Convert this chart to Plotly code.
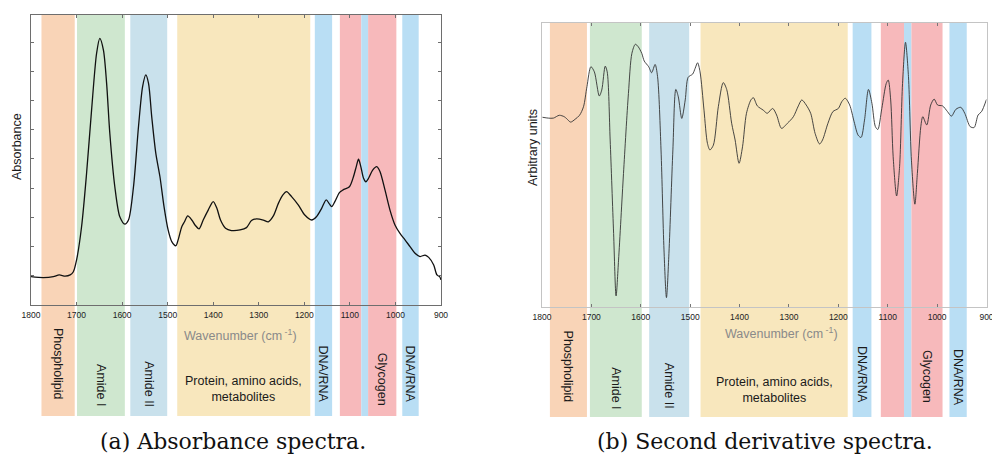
import plotly.graph_objects as go

W, H = 992, 454

# ---------------- data ----------------
# (a) absorbance spectrum
wn_a = [1800, 1773, 1751, 1738, 1725, 1714, 1707, 1700, 1689, 1678, 1667, 1656, 1649, 1641,
        1634, 1627, 1616, 1605, 1594, 1586, 1575, 1564, 1555, 1548, 1542, 1535, 1526, 1517,
        1508, 1499, 1491, 1482, 1477, 1469, 1463, 1456, 1447, 1440, 1431, 1422, 1411, 1400,
        1392, 1384, 1373, 1360, 1341, 1327, 1316, 1305, 1290, 1279, 1268, 1257, 1247, 1239,
        1228, 1213, 1199, 1184, 1173, 1162, 1152, 1145, 1140, 1133, 1123, 1115, 1101, 1092,
        1086, 1081, 1076, 1070, 1065, 1059, 1050, 1041, 1034, 1023, 1012, 1001, 990, 979,
        968, 957, 946, 935, 927, 916, 909, 903, 900]
abs_a = [0.097, 0.094, 0.097, 0.103, 0.099, 0.103, 0.114, 0.154, 0.268, 0.451, 0.668, 0.862,
         0.913, 0.873, 0.759, 0.588, 0.405, 0.302, 0.277, 0.291, 0.405, 0.611, 0.748, 0.788,
         0.759, 0.645, 0.519, 0.440, 0.337, 0.257, 0.217, 0.203, 0.223, 0.268, 0.285, 0.305,
         0.291, 0.274, 0.261, 0.291, 0.325, 0.354, 0.331, 0.291, 0.263, 0.255, 0.257, 0.265,
         0.289, 0.295, 0.291, 0.285, 0.305, 0.348, 0.377, 0.388, 0.371, 0.342, 0.308, 0.291,
         0.303, 0.331, 0.360, 0.346, 0.337, 0.354, 0.385, 0.394, 0.405, 0.440, 0.474, 0.499,
         0.474, 0.434, 0.422, 0.434, 0.462, 0.474, 0.457, 0.394, 0.325, 0.274, 0.245, 0.223,
         0.200, 0.177, 0.166, 0.171, 0.163, 0.137, 0.103, 0.097, 0.086]

# (b) second derivative spectrum
wn_b = [1799, 1787, 1777, 1765, 1755, 1750, 1742, 1733, 1724, 1716, 1709, 1701, 1694, 1684,
        1679, 1672, 1668, 1662, 1655, 1650, 1645, 1635, 1625, 1618, 1611, 1605, 1598, 1593,
        1584, 1578, 1571, 1566, 1559, 1553, 1548, 1543, 1535, 1529, 1524, 1517, 1510, 1504,
        1495, 1490, 1485, 1480, 1472, 1465, 1460, 1453, 1443, 1433, 1426, 1416, 1409, 1401,
        1394, 1386, 1377, 1372, 1364, 1352, 1344, 1333, 1325, 1315, 1303, 1291, 1281, 1274,
        1265, 1256, 1247, 1238, 1232, 1221, 1211, 1200, 1193, 1186, 1177, 1168, 1160, 1154,
        1147, 1139, 1132, 1125, 1120, 1112, 1103, 1099, 1094, 1089, 1082, 1076, 1070, 1064,
        1058, 1052, 1045, 1040, 1033, 1029, 1021, 1013, 1006, 999, 989, 979, 971, 962, 952,
        944, 933, 925, 917, 910, 900]
d2_b = [0.667, 0.664, 0.664, 0.674, 0.669, 0.662, 0.650, 0.660, 0.674, 0.704, 0.775, 0.845,
        0.827, 0.742, 0.763, 0.847, 0.827, 0.587, 0.258, 0.038, 0.164, 0.469, 0.751, 0.892,
        0.924, 0.915, 0.892, 0.865, 0.845, 0.824, 0.853, 0.810, 0.552, 0.200, 0.032, 0.188,
        0.552, 0.765, 0.739, 0.663, 0.728, 0.808, 0.819, 0.839, 0.859, 0.827, 0.692, 0.575,
        0.552, 0.569, 0.704, 0.789, 0.765, 0.646, 0.587, 0.505, 0.563, 0.681, 0.728, 0.736,
        0.707, 0.692, 0.681, 0.698, 0.675, 0.628, 0.646, 0.669, 0.707, 0.728, 0.710, 0.681,
        0.610, 0.573, 0.587, 0.646, 0.687, 0.698, 0.722, 0.734, 0.710, 0.651, 0.604, 0.596,
        0.657, 0.765, 0.716, 0.634, 0.624, 0.698, 0.786, 0.798, 0.728, 0.528, 0.390, 0.493,
        0.786, 0.931, 0.810, 0.516, 0.361, 0.469, 0.634, 0.669, 0.640, 0.710, 0.731, 0.710,
        0.707, 0.687, 0.671, 0.695, 0.702, 0.681, 0.634, 0.631, 0.675, 0.687, 0.730]

tick_vals = [1800, 1700, 1600, 1500, 1400, 1300, 1200, 1100, 1000, 900]
tick_text = ["1800", "1700", "1600", "1500", "1400", "1300", "1200", "1100", "1000", "900"]

# spectral bands (start, end wavenumber) and their kind
band_kind = ["lipid", "amide1", "amide2", "protein", "dna", "glyc", "dna", "glyc", "dna"]
bands_a_start = [1777, 1699, 1582, 1479, 1177, 1122, 1075, 1060, 985]
bands_a_end = [1704, 1594, 1501, 1187, 1139, 1075, 1060, 998, 949]
bands_b_start = [1784, 1703, 1583, 1479, 1171, 1114, 1067, 1052, 975]
bands_b_end = [1709, 1598, 1502, 1181, 1133, 1067, 1052, 989, 940]

band_labels = ["Phospholipid", "Amide I", "Amide II", "Protein, amino acids,<br>metabolites",
               "DNA/RNA", None, None, "Glycogen", "DNA/RNA"]

# ---------------- styles ----------------
colors = {"lipid": "#f9d4b7", "amide1": "#cfe7cf", "amide2": "#c9e1ec",
          "protein": "#f8e7bd", "dna": "#b9def4", "glyc": "#f7b9bb"}

SANS = "Liberation Sans, Arial, sans-serif"
SERIF = "DejaVu Serif, serif"

def py(p):
    return 1 - p / H

# label vertical centres (pixels from top) for each panel
lab_y_a = [364, 385, 384, 389, 374, None, None, 379, 374]
lab_y_b = [367, 388, 386, 390, 374, None, None, 377, 377]

fig = go.Figure()

fig.add_trace(go.Scatter(x=wn_a, y=abs_a, mode="lines", xaxis="x", yaxis="y",
                         line=dict(color="#111111", width=1.3, shape="spline", smoothing=0.8),
                         showlegend=False, hoverinfo="skip"))
fig.add_trace(go.Scatter(x=wn_b, y=d2_b, mode="lines", xaxis="x2", yaxis="y2",
                         line=dict(color="#333333", width=0.9, shape="spline", smoothing=0.8),
                         showlegend=False, hoverinfo="skip"))

shapes = []
annotations = []

panels = [
    ("x", bands_a_start, bands_a_end, 15, 416, lab_y_a),
    ("x2", bands_b_start, bands_b_end, 22.7, 417, lab_y_b),
]
for xref, bs, be, top_px, bot_px, laby in panels:
    for s, e, k, lab, ly in zip(bs, be, band_kind, band_labels, laby):
        shapes.append(dict(type="rect", xref=xref, yref="paper", x0=s, x1=e,
                           y0=py(bot_px), y1=py(top_px), fillcolor=colors[k],
                           line=dict(width=0), layer="below"))
        if lab is None:
            continue
        annotations.append(dict(xref=xref, yref="paper", x=(s + e) / 2, y=py(ly),
                                text=lab, showarrow=False, align="center",
                                textangle=0 if k == "protein" else 90,
                                font=dict(family=SANS, size=12.5, color="#1a1a1a"),
                                xanchor="center", yanchor="middle"))

# axis titles and captions
def note(xref, x, ypx, text, font, angle=0):
    return dict(xref=xref, yref="paper", x=x, y=py(ypx), text=text, showarrow=False,
                textangle=angle, font=font, xanchor="center", yanchor="middle")

f_gray = dict(family=SANS, size=12.5, color="#8a8a8a")
f_dark = dict(family=SANS, size=12.5, color="#1a1a1a")
f_cap = dict(family=SERIF, size=22, color="#111111")
annotations += [
    note("x", 1341, 335, "Wavenumber (cm<sup> -1</sup>)", f_gray),
    note("x2", 1315, 333, "Wavenumber (cm<sup> -1</sup>)", f_gray),
    note("paper", 17 / W, 147, "Absorbance", f_dark, -90),
    note("paper", 533 / W, 148, "Arbitrary units", f_dark, -90),
    note("paper", 233 / W, 441, "(a) Absorbance spectra.", f_cap),
    note("paper", 765 / W, 441, "(b) Second derivative spectra.", f_cap),
]

xcommon = dict(range=[1800, 900], tickvals=tick_vals, ticktext=tick_text, ticks="inside",
               ticklen=3, showline=True, mirror="ticks", showgrid=False, zeroline=False,
               automargin=False, ticklabeloverflow="allow", ticklabelstandoff=2,
               tickfont=dict(family=SANS, size=8.5, color="#222222"))

fig.update_layout(
    template="none",
    width=W, height=H, margin=dict(l=0, r=0, t=0, b=0, pad=0), autosize=False,
    paper_bgcolor="white", plot_bgcolor="rgba(0,0,0,0)", showlegend=False,
    xaxis=dict(domain=[31 / W, 441 / W], anchor="y", linecolor="#6e6e6e", tickcolor="#6e6e6e",
               **xcommon),
    yaxis=dict(domain=[py(305), py(15)], anchor="x", range=[0, 0.993], automargin=False,
               tickvals=[0.1, 0.2, 0.3, 0.4, 0.5, 0.6, 0.7, 0.8, 0.9], ticks="inside", ticklen=3,
               tickcolor="#6e6e6e", showticklabels=False, showline=True, linecolor="#6e6e6e",
               mirror="ticks", showgrid=False, zeroline=False),
    xaxis2=dict(domain=[542 / W, 986.5 / W], anchor="y2", linecolor="#c4c4c4", tickcolor="#777777",
                **xcommon),
    yaxis2=dict(domain=[py(306.7), py(22.7)], anchor="x2", range=[0, 1], ticks="",
                automargin=False, showticklabels=False, showline=True, linecolor="#c4c4c4",
                mirror=True, showgrid=False, zeroline=False),
    shapes=shapes, annotations=annotations,
)

fig.write_html("out.html", config={"displayModeBar": False, "staticPlot": True},
               post_script="document.body.style.margin='0';")
